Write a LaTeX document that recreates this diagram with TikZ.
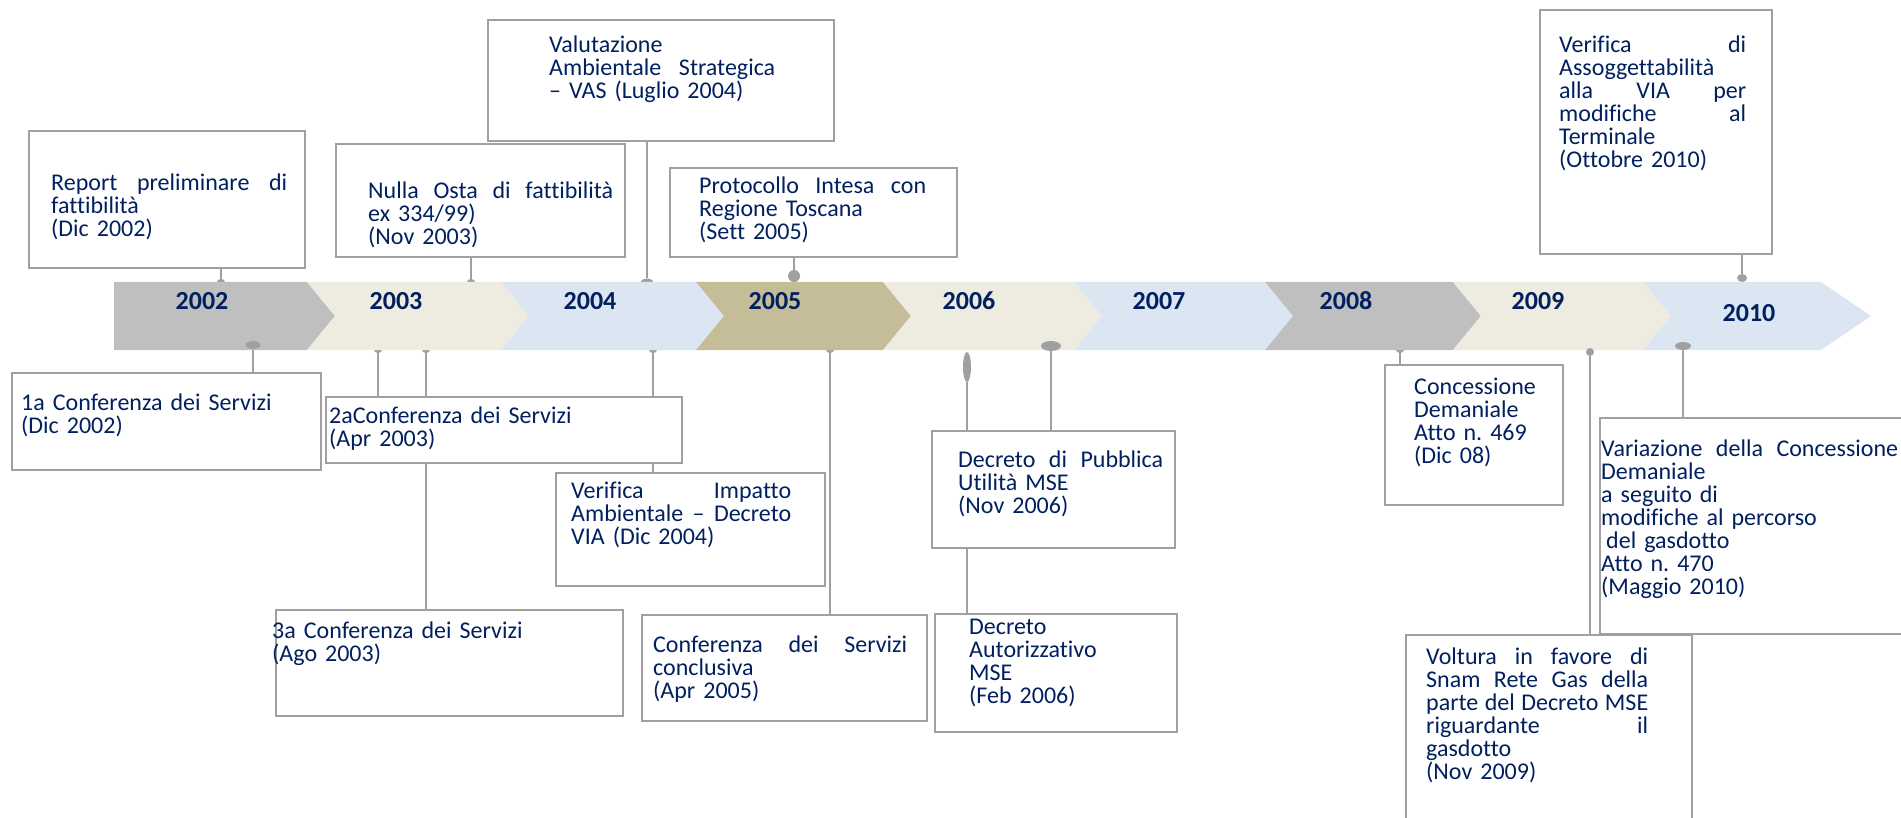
\documentclass[tikz,border=0pt]{standalone}
\usepackage{fontspec}
\setmainfont{Carlito}[Ligatures=NoCommon]
\usetikzlibrary{shapes.geometric,backgrounds}
\definecolor{navy}{HTML}{002060}
\definecolor{linegray}{HTML}{A0A0A0}
\definecolor{bandgray}{HTML}{BFBFBF}
\definecolor{bandbeige}{HTML}{EEECE1}
\definecolor{bandblue}{HTML}{DCE6F2}
\definecolor{bandtan}{HTML}{C4BD97}
\newcommand{\spread}[1]{\makebox[\linewidth][s]{\spaceskip=\fontdimen2\font plus 1fil\relax #1}}
\tolerance=10000 \hbadness=10000 \frenchspacing
\tikzset{
   evbox/.style={draw=linegray,line width=2.7pt,fill=white,anchor=north west,
      inner sep=0pt,outer sep=0pt},
   evtext/.style={anchor=base west,inner sep=0pt,text=navy,align=left,
      font=\fontsize{24}{23}\selectfont},
   yr/.style={anchor=base,inner sep=0pt,text=navy,font=\bfseries\fontsize{26}{26}\selectfont},
   knob/.style={ellipse,fill=linegray,inner sep=0pt},
   lnk/.style={draw=linegray,line width=2pt}
}
\begin{document}
\begin{tikzpicture}[x=1pt,y=-1pt] % 1901 x 818, y downwards
   \newcommand{\chev}[3]{\fill[#1] (#2,282) -- (#3,282) -- ({#3+28},316) -- (#3,350) -- (#2,350) -- ({#2+28},316) -- cycle;}
   \useasboundingbox (0,0) rectangle (1901,818);
   \clip (0,0) rectangle (1901,818);
   % caps half hidden by the band
   \node[knob,minimum width=8pt,minimum height=6pt] (k-report) at (221,282) {};
   \node[knob,minimum width=8pt,minimum height=6pt] (k-nulla) at (471,282) {};
   \node[knob,minimum width=13pt,minimum height=9pt] (k-vas) at (647,283) {};
   \node[knob,minimum width=8pt,minimum height=6pt] (k-conf2) at (378,350) {};
   \node[knob,minimum width=8pt,minimum height=6pt] (k-conf3) at (426,350) {};
   \node[knob,minimum width=8pt,minimum height=6pt] (k-impatto) at (653,350) {};
   \node[knob,minimum width=8pt,minimum height=6pt] (k-concl) at (830,350) {};
   \node[knob,minimum width=8pt,minimum height=6pt] (k-conc) at (1400,350) {};
   % band
   \fill[bandgray] (114,282) -- (307,282) -- (335,316) -- (307,350) -- (114,350) -- cycle;
   \chev{bandbeige}{307}{501}
   \chev{bandblue}{501}{696}
   \chev{bandtan}{696}{883}
   \chev{bandbeige}{883}{1074}
   \chev{bandblue}{1074}{1265}
   \chev{bandgray}{1265}{1453}
   \chev{bandbeige}{1453}{1643}
   \fill[bandblue] (1643,282) -- (1821,282) -- (1871,316) -- (1821,350) -- (1643,350) -- (1671,316) -- cycle;
   \node[yr] (y2002) at (202,310) {2002};
   \node[yr] (y2003) at (396,310) {2003};
   \node[yr] (y2004) at (590,310) {2004};
   \node[yr] (y2005) at (775,310) {2005};
   \node[yr] (y2006) at (969,310) {2006};
   \node[yr] (y2007) at (1159,310) {2007};
   \node[yr] (y2008) at (1346,310) {2008};
   \node[yr] (y2009) at (1538,310) {2009};
   \node[yr] (y2010) at (1749,322) {2010};
   % knobs on top of the band
   \node[knob,minimum width=12pt,minimum height=12pt] (k-proto) at (794,276) {};
   \node[knob,minimum width=10pt,minimum height=8pt] (k-assogg) at (1742,278) {};
   \node[knob,minimum width=15pt,minimum height=8pt] (k-conf1) at (253,345) {};
   \node[knob,minimum width=20pt,minimum height=10pt] (k-pub) at (1051,346) {};
   \node[knob,minimum width=16pt,minimum height=8pt] (k-var) at (1683,346) {};
   \node[knob,minimum width=8pt,minimum height=30pt] (k-aut) at (967,367) {};
   \node[knob,minimum width=8pt,minimum height=8pt] (k-volt) at (1590,352) {};
   % boxes
   \node[evbox,minimum width=276pt,minimum height=137pt] (b-report) at (29,131) {};
   \node[evbox,minimum width=346pt,minimum height=121pt] (b-vas) at (488,20) {};
   \node[evbox,minimum width=289pt,minimum height=113pt] (b-nulla) at (336,144) {};
   \node[evbox,minimum width=287pt,minimum height=89pt] (b-proto) at (670,168) {};
   \node[evbox,minimum width=232pt,minimum height=244pt] (b-assogg) at (1540,10) {};
   \node[evbox,minimum width=309pt,minimum height=97pt] (b-conf1) at (12,373) {};
   \node[evbox,minimum width=356pt,minimum height=66pt] (b-conf2) at (326,397) {};
   \node[evbox,minimum width=269pt,minimum height=113pt] (b-impatto) at (556,473) {};
   \node[evbox,minimum width=347pt,minimum height=106pt] (b-conf3) at (276,610) {};
   \node[evbox,minimum width=285pt,minimum height=106pt] (b-concl) at (642,615) {};
   \node[evbox,minimum width=243pt,minimum height=117pt] (b-pub) at (932,431) {};
   \node[evbox,minimum width=242pt,minimum height=118pt] (b-aut) at (935,614) {};
   \node[evbox,minimum width=178pt,minimum height=140pt] (b-conc) at (1385,365) {};
   \node[evbox,minimum width=330pt,minimum height=216pt] (b-var) at (1600,418) {};
   \node[evbox,minimum width=286pt,minimum height=220pt] (b-volt) at (1406,635) {};
   % texts
   \node[evtext,text width=236pt] (t-report) at (51,191) {\spread{Report preliminare di}\\fattibilità\\(Dic 2002)};
   \node[evtext,text width=226pt] (t-vas) at (549,53) {Valutazione\\\spread{Ambientale Strategica}\\– VAS (Luglio 2004)};
   \node[evtext,text width=245pt] (t-nulla) at (368,199) {\spread{Nulla Osta di fattibilità}\\ex 334/99)\\(Nov 2003)};
   \node[evtext,text width=227pt] (t-proto) at (699,194) {\spread{Protocollo Intesa con}\\Regione Toscana\\(Sett 2005)};
   \node[evtext,text width=187pt] (t-assogg) at (1559,53) {\spread{Verifica di}\\Assoggettabilità\\\spread{alla VIA per}\\\spread{modifiche al}\\Terminale\\(Ottobre 2010)};
   \node[evtext,text width=290pt] (t-conf1) at (21,410) {1a Conferenza dei Servizi\\(Dic 2002)};
   \node[evtext,text width=340pt] (t-conf2) at (329,423) {2aConferenza dei Servizi\\(Apr 2003)};
   \node[evtext,text width=220pt] (t-impatto) at (571,498) {\spread{Verifica Impatto}\\\spread{Ambientale – Decreto}\\VIA (Dic 2004)};
   \node[evtext,text width=254pt] (t-concl) at (653,652) {\spread{Conferenza dei Servizi}\\conclusiva\\(Apr 2005)};
   \node[evtext,text width=340pt] (t-conf3) at (272,638) {3a Conferenza dei Servizi\\(Ago 2003)};
   \node[evtext,text width=205pt] (t-pub) at (958,467) {\spread{Decreto di Pubblica}\\Utilità MSE\\(Nov 2006)};
   \node[evtext,text width=200pt] (t-aut) at (969,634) {Decreto\\Autorizzativo\\MSE\\(Feb 2006)};
   \node[evtext,text width=150pt] (t-conc) at (1414,394) {Concessione\\Demaniale\\Atto n. 469\\(Dic 08)};
   \node[evtext,text width=297pt] (t-var) at (1601,456) {\spread{Variazione della Concessione}\\Demaniale\\a seguito di\\modifiche al percorso\\\hspace*{5pt}del gasdotto\\Atto n. 470\\(Maggio 2010)};
   \node[evtext,text width=222pt] (t-volt) at (1426,664) {\spread{Voltura in favore di}\\\spread{Snam Rete Gas della}\\\spread{parte del Decreto MSE}\\\spread{riguardante il}\\gasdotto\\(Nov 2009)};
   % connectors behind boxes and band
   \begin{pgfonlayer}{background}
   \draw[lnk] (k-report) -- (k-report |- b-report.south);
   \draw[lnk] (k-nulla) -- (k-nulla |- b-nulla.south);
   \draw[lnk] (k-vas) -- (k-vas |- b-vas.south);
   \draw[lnk] (k-proto) -- (k-proto |- b-proto.south);
   \draw[lnk] (k-assogg) -- (k-assogg |- b-assogg.south);
   \draw[lnk] (k-conf1) -- (k-conf1 |- b-conf1.north);
   \draw[lnk] (k-conf2) -- (k-conf2 |- b-conf2.north);
   \draw[lnk] (k-conf3) -- (k-conf3 |- b-conf3.north);
   \draw[lnk] (k-impatto) -- (k-impatto |- b-impatto.north);
   \draw[lnk] (k-concl) -- (k-concl |- b-concl.north);
   \draw[lnk] (k-aut) -- (k-aut |- b-aut.north);
   \draw[lnk] (k-pub) -- (k-pub |- b-pub.north);
   \draw[lnk] (k-conc) -- (k-conc |- b-conc.north);
   \draw[lnk] (k-volt) -- (k-volt |- b-volt.north);
   \draw[lnk] (k-var) -- (k-var |- b-var.north);
   \end{pgfonlayer}
\end{tikzpicture}
\end{document}
